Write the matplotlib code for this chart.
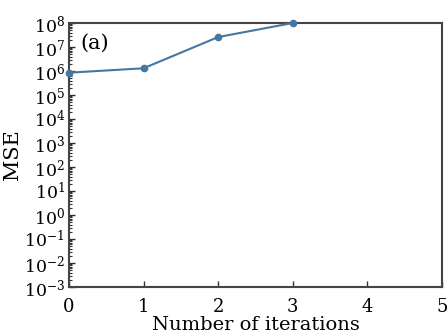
import numpy as np
import matplotlib
matplotlib.use("Agg")
import matplotlib.pyplot as plt
from matplotlib.ticker import LogLocator, NullFormatter

# data
iterations = [0, 1, 2, 3]
mse = [8.5e5, 1.3e6, 2.6e7, 1.0e8]

plt.rcParams['font.family'] = 'DejaVu Serif'
plt.rcParams['mathtext.fontset'] = 'dejavuserif'

fig = plt.figure(figsize=(4.48, 3.35), dpi=100)
ax = fig.add_axes([69 / 448, 1 - 287 / 335, (442 - 69) / 448, (287 - 23) / 335])

ax.plot(iterations, mse, color='#4477a1', lw=1.5, marker='o', ms=4.5, clip_on=False, zorder=5)

ax.set_yscale('log')
ax.set_xlim(0, 5)
ax.set_ylim(1e-3, 1e8)
ax.set_xticks(range(6))
ax.yaxis.set_major_locator(LogLocator(base=10, numticks=20))
ax.yaxis.set_minor_locator(LogLocator(base=10, subs=np.arange(2, 10), numticks=20))
ax.yaxis.set_minor_formatter(NullFormatter())

ax.tick_params(axis='both', which='both', direction='in', top=False, right=False,
               colors='#333333', labelcolor='black')
ax.tick_params(axis='y', labelsize=12.5, pad=3)
ax.tick_params(axis='x', labelsize=13, pad=8)
ax.tick_params(axis='both', which='major', length=4, width=1)
ax.tick_params(axis='y', which='minor', length=2, width=0.8)

for s in ax.spines.values():
    s.set_color('#444444')
    s.set_linewidth(1.5)

ax.set_xlabel('Number of iterations', fontsize=14, labelpad=0)
ax.set_ylabel('MSE', fontsize=15, labelpad=1)
ax.text(0.03, 0.925, '(a)', transform=ax.transAxes, fontsize=15, ha='left', va='center')

fig.savefig('out.png', dpi=100)
